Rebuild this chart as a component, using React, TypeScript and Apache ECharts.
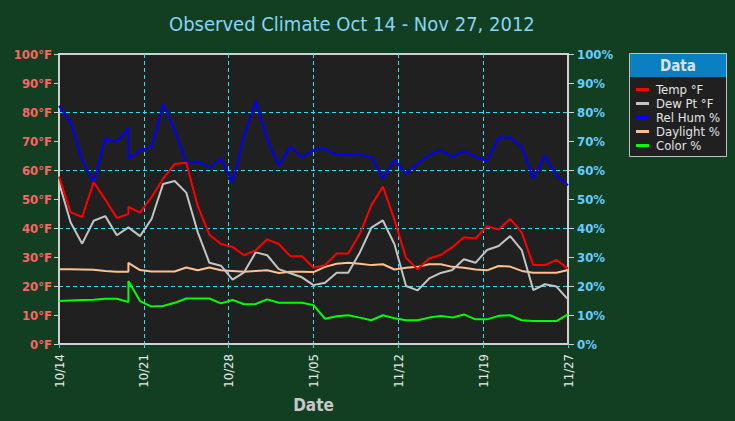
import React, { useEffect, useRef } from "react";
import * as echarts from "echarts";

// x position of each reading, in days after Oct 14, 2012 (day 6 has two readings)
const dayOffsets = [0, 1, 2, 3, 4, 5, 6, 6, 7, 8, 9, 10, 11, 12, 13, 14, 15, 16, 17, 18, 19, 20, 21, 22, 23, 24, 25, 26, 27, 28, 29, 30, 31, 32, 33, 34, 35, 36, 37, 38, 39, 40, 41, 42, 43, 44];

const tempF = [57.7, 45.5, 43.8, 55.8, 49.8, 43.5, 44.8, 47.3, 45.3, 50.6, 57, 62.1, 62.5, 47.5, 37.7, 34.5, 33.5, 30.6, 32.3, 36.1, 34.5, 30.3, 30.3, 26.3, 27.2, 31.2, 31.2, 38, 47.8, 54.3, 42.8, 29.7, 25.8, 29.5, 30.7, 33.4, 36.8, 36.4, 40.6, 39.5, 43.1, 38.5, 27.2, 27.2, 29, 26];
const dewPtF = [55.7, 42, 34.6, 42.5, 44.1, 37.5, 40.2, 40.2, 37.2, 43.1, 55.2, 56.2, 52.2, 38.5, 28, 27, 22.2, 24.7, 31.6, 30.6, 25.8, 24.4, 23, 20.3, 21.1, 24.6, 24.6, 31.5, 40.1, 42.6, 34.4, 20, 18.5, 22.6, 24.5, 25.5, 29.2, 28, 32.4, 33.8, 37.2, 32.4, 18.6, 20.6, 19.8, 15.4];
const relHum = [82.1, 76.4, 63.4, 55.9, 70.8, 69.7, 74.3, 63.7, 66.8, 68, 82.6, 73.7, 62.4, 63, 60.8, 63.9, 55.7, 71.8, 83.8, 70.5, 61.5, 68.1, 64.3, 67, 67.3, 65.3, 65.3, 65.3, 64.5, 57.1, 63.4, 58.8, 62.2, 65.1, 66.8, 64.5, 66.5, 64.5, 63.1, 71.2, 71.2, 68, 57.1, 64.8, 58.2, 54.7];
const daylight = [25.8, 25.8, 25.7, 25.6, 25.2, 24.9, 24.9, 28, 25.5, 25, 25, 25, 26.4, 25.4, 26.4, 25.4, 25.2, 24.9, 25.2, 25.4, 24.5, 24.9, 24.9, 24.8, 26.6, 27.7, 28, 27.7, 27.2, 27.5, 25.7, 26.3, 26.6, 27.5, 27.5, 26.6, 26.3, 25.7, 25.4, 26.9, 26.7, 25.2, 24.6, 24.6, 24.6, 25.5];
const colorPct = [14.8, 15, 15.2, 15.3, 15.6, 15.6, 14.5, 21.7, 14.8, 12.9, 13.1, 14.2, 15.7, 15.7, 15.7, 14, 15.2, 13.7, 13.8, 15.4, 14.2, 14.2, 14.2, 13.4, 8.7, 9.6, 9.9, 9.1, 8.2, 9.9, 8.9, 8.2, 8.2, 9.1, 9.7, 9.1, 10.2, 8.5, 8.5, 9.7, 9.9, 8.2, 7.9, 7.9, 7.9, 10.2];

const seriesNames = ["Temp °F", "Dew Pt °F", "Rel Hum %", "Daylight %", "Color %"];
const seriesColors = ["#ff0000", "#c4c4c4", "#0000ff", "#ffc090", "#00ff00"];
const seriesValues = [tempF, dewPtF, relHum, daylight, colorPct];

const titleText = "Observed Climate Oct 14 - Nov 27, 2012";
const startYear = 2012;
const startMonth = 9; // October (0-based)
const startDay = 14;
const spanDays = 44;
const xDivisions = 6;

const FONT = "'DejaVu Sans Condensed', 'DejaVu Sans', sans-serif";
const GRID_COLOR = "#22e4f0";
const AXIS_COLOR = "#d0d0d0";

function fmtDate(v: number): string {
  const d = new Date(startYear, startMonth, startDay + Math.floor(v + 1e-6));
  const mm = String(d.getMonth() + 1).padStart(2, "0");
  const dd = String(d.getDate()).padStart(2, "0");
  return mm + "/" + dd;
}

export default function App() {
  const ref = useRef<HTMLDivElement>(null);
  useEffect(() => {
    if (!ref.current) return;
    const chart = echarts.init(ref.current, null, { renderer: "svg" });
    const series = seriesNames.map((name, i) => ({
      name,
      type: "line",
      yAxisIndex: 0,
      showSymbol: false,
      symbol: "none",
      lineStyle: { width: 2, color: seriesColors[i] },
      itemStyle: { color: seriesColors[i] },
      z: 10 - i,
      data: dayOffsets.map((d, k) => [d, seriesValues[i][k]]),
    }));
    chart.setOption({
      animation: false,
      backgroundColor: "#123f22",
      textStyle: { fontFamily: FONT },
      title: {
        text: titleText,
        left: 164,
        top: 9,
        textStyle: { color: "#88d4f4", fontSize: 20, fontWeight: "normal", fontFamily: FONT },
      },
      grid: {
        left: 59,
        right: 167,
        top: 54,
        bottom: 77,
        show: true,
        backgroundColor: "#202020",
        borderColor: AXIS_COLOR,
        borderWidth: 2,
        containLabel: false,
      },
      legend: {
        orient: "vertical",
        left: 636,
        top: 83,
        padding: 0,
        itemGap: 1,
        itemWidth: 13,
        itemHeight: 3,
        icon: "rect",
        z: 10,
        data: seriesNames,
        textStyle: { color: "#e4e4e4", fontSize: 13, lineHeight: 13, fontFamily: FONT, padding: [0, 0, 0, 2] },
      },
      graphic: [
        { type: "rect", z: 1, shape: { x: 629.5, y: 53.5, width: 97, height: 103 }, style: { fill: "#202020", stroke: "#c0c0c0", lineWidth: 1 } },
        { type: "rect", z: 2, shape: { x: 630, y: 54, width: 96, height: 23 }, style: { fill: "#0a80c2" } },
        { type: "text", z: 3, x: 678, y: 66, style: { text: "Data", fill: "#e0e0e0", font: "bold 15px " + FONT, textAlign: "center", textVerticalAlign: "middle" } },
      ],
      xAxis: {
        type: "value",
        min: 0,
        max: spanDays,
        interval: spanDays / xDivisions,
        name: "Date",
        nameLocation: "middle",
        nameGap: 52,
        nameTextStyle: { color: "#c8c8c8", fontSize: 17, fontWeight: "bold", fontFamily: FONT },
        axisLine: { show: true, lineStyle: { color: AXIS_COLOR, width: 2 } },
        axisTick: { show: true, length: 4, lineStyle: { color: "#40d0e0" } },
        axisLabel: { rotate: 90, color: "#e8e8e8", fontSize: 13, margin: 10, formatter: (v: number) => fmtDate(v), fontFamily: FONT },
        splitLine: { show: true, showMinLine: false, showMaxLine: false, lineStyle: { color: GRID_COLOR, type: [4, 3], width: 1 } },
      },
      yAxis: [
        {
          type: "value",
          position: "left",
          min: 0,
          max: 100,
          interval: 10,
          axisLine: { show: true, lineStyle: { color: AXIS_COLOR, width: 2 } },
          axisTick: { show: true, length: 5, lineStyle: { color: AXIS_COLOR } },
          axisLabel: { color: "#ff6464", fontSize: 13, fontWeight: "bold", margin: 7, formatter: "{value}°F", fontFamily: FONT },
          splitLine: { show: false },
        },
        {
          type: "value",
          position: "right",
          min: 0,
          max: 100,
          interval: 10,
          axisLine: { show: true, lineStyle: { color: AXIS_COLOR, width: 2 } },
          axisTick: { show: true, length: 6, lineStyle: { color: AXIS_COLOR } },
          axisLabel: { color: "#66ccff", fontSize: 13, fontWeight: "bold", margin: 9, formatter: "{value}%", fontFamily: FONT },
          splitLine: { show: false },
        },
        {
          type: "value",
          position: "left",
          min: 0,
          max: 100,
          interval: 20,
          axisLine: { show: false },
          axisTick: { show: false },
          axisLabel: { show: false },
          splitLine: { show: true, showMinLine: false, showMaxLine: false, lineStyle: { color: GRID_COLOR, type: [4, 3], width: 1 } },
        },
      ],
      series,
    });
    return () => chart.dispose();
  }, []);
  return <div ref={ref} style={{ position: "fixed", left: 0, top: 0, width: 735, height: 421 }} />;
}
